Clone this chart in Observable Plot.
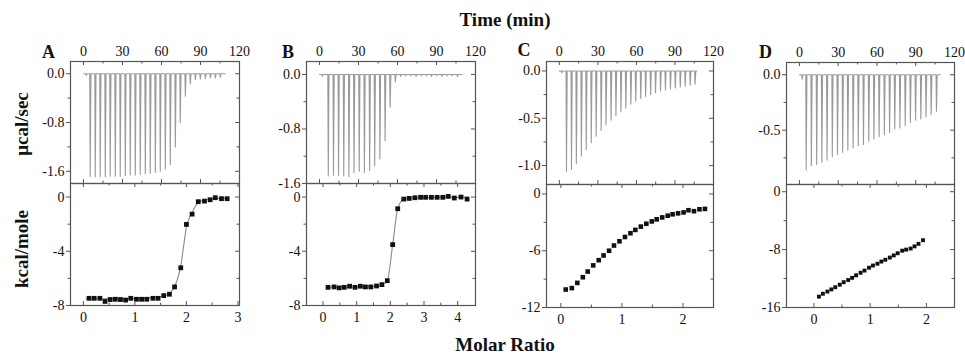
<!DOCTYPE html>
<html><head><meta charset="utf-8">
<script src="https://cdn.jsdelivr.net/npm/d3@7"></script>
<script src="https://cdn.jsdelivr.net/npm/@observablehq/plot@0.6"></script>
<style>
body{margin:0;background:#fff;}
#root{position:relative;width:965px;height:356px;font-family:"Liberation Serif","Times New Roman",serif;overflow:hidden;background:#fff;}
.t{position:absolute;font-weight:bold;white-space:nowrap;color:#111;transform:translate(-50%,-50%);line-height:1;}
.r{transform:translate(-50%,-50%) rotate(-90deg);}
#root svg{position:absolute;overflow:visible;}
</style></head><body><div id="root"></div>
<script>
// ---------- tick values ----------
const timeTicks = [0, 30, 60, 90, 120];
const timeMinor = [15, 45, 75, 105];

// ---------- Panel A ----------
const injTimeA = [1.8, 4.8, 8.7, 12.5, 16.4, 20.2, 24.1, 27.9, 31.8, 35.6, 39.5, 43.3, 47.2, 51.0, 54.9, 58.7, 62.6, 66.4, 70.3, 74.1, 78.0, 81.8, 85.7, 89.5, 93.4, 97.2, 101.1, 104.9];
const peakA = [-0.03, -1.69, -1.69, -1.69, -1.69, -1.68, -1.68, -1.68, -1.67, -1.66, -1.66, -1.65, -1.64, -1.63, -1.62, -1.60, -1.56, -1.49, -1.20, -0.80, -0.37, -0.17, -0.10, -0.09, -0.08, -0.07, -0.07, -0.06];
const ratioA = [0.11, 0.21, 0.32, 0.42, 0.52, 0.62, 0.72, 0.82, 0.92, 1.03, 1.13, 1.23, 1.35, 1.45, 1.56, 1.67, 1.77, 1.89, 2.00, 2.11, 2.23, 2.35, 2.46, 2.56, 2.68, 2.79];
const heatA = [-7.47, -7.47, -7.47, -7.70, -7.56, -7.54, -7.56, -7.60, -7.47, -7.54, -7.54, -7.54, -7.47, -7.47, -7.27, -7.17, -6.63, -5.22, -2.02, -1.26, -0.34, -0.30, -0.20, -0.05, -0.12, -0.12];
const fitRatioA = [0.05, 0.5, 1.0, 1.4, 1.6, 1.7, 1.77, 1.83, 1.89, 1.95, 2.0, 2.05, 2.11, 2.17, 2.23, 2.35, 2.5, 2.8];
const fitHeatA = [-7.5, -7.5, -7.48, -7.4, -7.25, -7.0, -6.6, -6.0, -5.1, -3.5, -2.2, -1.6, -1.15, -0.7, -0.4, -0.22, -0.12, -0.07];

// ---------- Panel B ----------
const injTimeB = [1.8, 6.4, 10.4, 14.3, 18.3, 22.3, 26.2, 30.2, 34.2, 38.2, 42.1, 46.1, 50.1, 54.0, 58.0, 62.0, 65.9, 69.9, 73.9, 77.9, 81.8, 85.8, 89.8, 93.7, 97.7, 101.7, 105.7];
const peakB = [-0.03, -1.49, -1.48, -1.48, -1.49, -1.50, -1.44, -1.42, -1.44, -1.41, -1.34, -1.24, -0.97, -0.48, -0.11, -0.03, -0.02, -0.02, -0.03, -0.02, -0.02, -0.03, -0.02, -0.03, -0.02, -0.02, -0.03];
const ratioB = [0.15, 0.33, 0.48, 0.63, 0.79, 0.95, 1.11, 1.26, 1.42, 1.59, 1.75, 1.91, 2.07, 2.22, 2.40, 2.56, 2.73, 2.90, 3.05, 3.22, 3.39, 3.56, 3.72, 3.90, 4.10, 4.28];
const heatB = [-6.66, -6.63, -6.70, -6.66, -6.58, -6.66, -6.58, -6.63, -6.63, -6.56, -6.46, -6.17, -3.51, -0.86, -0.15, -0.10, -0.05, -0.02, -0.02, -0.02, -0.02, -0.02, 0.05, -0.07, 0.0, -0.15];
const fitRatioB = [0.1, 1.0, 1.6, 1.75, 1.91, 2.07, 2.22, 2.40, 2.7, 3.5, 4.3];
const fitHeatB = [-6.65, -6.63, -6.58, -6.48, -6.17, -3.51, -0.86, -0.15, -0.05, -0.02, -0.02];

// ---------- Panel C ----------
const injTimeC = [1.6, 5.2, 9.1, 12.9, 16.8, 20.6, 24.5, 28.3, 32.2, 36.0, 39.9, 43.7, 47.6, 51.4, 55.3, 59.1, 63.0, 66.8, 70.7, 74.5, 78.4, 82.2, 86.1, 89.9, 93.8, 97.6, 101.5, 105.3];
const peakC = [-0.02, -1.06, -1.04, -0.98, -0.90, -0.83, -0.76, -0.69, -0.63, -0.57, -0.52, -0.47, -0.43, -0.39, -0.35, -0.32, -0.29, -0.27, -0.25, -0.23, -0.21, -0.20, -0.19, -0.18, -0.17, -0.16, -0.15, -0.14];
const ratioC = [0.08, 0.18, 0.27, 0.36, 0.44, 0.53, 0.62, 0.70, 0.79, 0.87, 0.96, 1.05, 1.14, 1.22, 1.31, 1.40, 1.49, 1.57, 1.66, 1.75, 1.83, 1.92, 2.01, 2.09, 2.18, 2.27, 2.36];
const heatC = [-10.1, -9.95, -9.4, -8.8, -8.2, -7.55, -7.0, -6.5, -6.0, -5.45, -5.0, -4.55, -4.15, -3.8, -3.45, -3.15, -2.9, -2.68, -2.48, -2.3, -2.15, -2.05, -1.95, -1.72, -1.82, -1.62, -1.58];

// ---------- Panel D ----------
const injTimeD = [1.8, 4.9, 8.9, 13.0, 17.0, 21.0, 25.1, 29.1, 33.1, 37.1, 41.2, 45.2, 49.2, 53.3, 57.3, 61.3, 65.4, 69.4, 73.4, 77.4, 81.5, 85.5, 89.5, 93.6, 97.6, 101.6, 105.7];
const peakD = [-0.04, -0.86, -0.82, -0.81, -0.79, -0.77, -0.74, -0.72, -0.70, -0.68, -0.66, -0.64, -0.63, -0.60, -0.58, -0.56, -0.54, -0.52, -0.49, -0.48, -0.46, -0.43, -0.41, -0.40, -0.38, -0.36, -0.33];
const ratioD = [0.09, 0.16, 0.24, 0.31, 0.38, 0.46, 0.53, 0.61, 0.68, 0.75, 0.83, 0.90, 0.98, 1.05, 1.13, 1.20, 1.27, 1.35, 1.42, 1.49, 1.57, 1.64, 1.72, 1.79, 1.86, 1.94];
const heatD = [-14.5, -14.1, -13.8, -13.5, -13.2, -12.85, -12.5, -12.2, -11.9, -11.55, -11.2, -10.9, -10.5, -10.2, -9.95, -9.65, -9.4, -9.1, -8.8, -8.5, -8.15, -8.0, -7.85, -7.55, -7.2, -6.7];

// ---------- labels ----------
const panelLetters = ["A", "B", "C", "D"];
const topTitle = "Time (min)";
const bottomTitle = "Molar Ratio";
const yTitleTop = "μcal/sec";
const yTitleBottom = "kcal/mole";

const panels = [
  {letter: "A", frame: {l: 70, r: 239, t: 61, m: 183, b: 305}, letterPos: [48.5, 52],
   times: injTimeA, peaks: peakA, base: [0, 109], topY: [-1.8, 0.2], topTicks: [0, -0.8, -1.6], topMinor: [-0.4, -1.2],
   ratio: ratioA, heat: heatA, fitX: fitRatioA, fitY: fitHeatA, botX: [-0.25, 3.03], botY: [-8, 1],
   xTicks: [0, 1, 2, 3], xMinor: [0.5, 1.5, 2.5], yTicks: [0, -4, -8], yMinor: [-2, -6], r: 2.7},
  {letter: "B", frame: {l: 306, r: 475, t: 61, m: 183, b: 305}, letterPos: [288, 52],
   times: injTimeB, peaks: peakB, base: [0, 109.5], topY: [-1.6, 0.19], topTicks: [0, -0.8, -1.6], topMinor: [-0.4, -1.2],
   ratio: ratioB, heat: heatB, fitX: fitRatioB, fitY: fitHeatB, botX: [-0.49, 4.53], botY: [-8, 1],
   xTicks: [0, 1, 2, 3, 4], xMinor: [0.5, 1.5, 2.5, 3.5], yTicks: [0, -4, -8], yMinor: [-2, -6], r: 2.7},
  {letter: "C", frame: {l: 546, r: 713, t: 61, m: 184, b: 307}, letterPos: [524, 50],
   times: injTimeC, peaks: peakC, base: [0, 107], topY: [-1.2, 0.1], topTicks: [0, -0.5, -1.0], topMinor: [-0.25, -0.75],
   ratio: ratioC, heat: heatC, fitX: null, fitY: null, botX: [-0.235, 2.5], botY: [-12, 1],
   xTicks: [0, 1, 2], xMinor: [0.5, 1.5], yTicks: [0, -6, -12], yMinor: [-3, -9], r: 2.6},
  {letter: "D", frame: {l: 786, r: 954, t: 62, m: 184, b: 307}, letterPos: [765.5, 52],
   times: injTimeD, peaks: peakD, base: [0, 109], topY: [-0.99, 0.11], topTicks: [0, -0.5], topMinor: [-0.25, -0.75],
   ratio: ratioD, heat: heatD, fitX: null, fitY: null, botX: [-0.487, 2.5], botY: [-16, 1],
   xTicks: [0, 1, 2], xMinor: [0.5, 1.5], yTicks: [0, -8, -16], yMinor: [-4, -12], r: 2.2}
];

const root = document.getElementById("root");
const AX = "#555";
const FONT = '"Liberation Serif","Times New Roman",serif';
const fmt1 = d => d.toFixed(1);
const fmt0 = d => String(d);

function place(svg, left, top) {
  svg.style.left = left + "px";
  svg.style.top = top + "px";
  root.appendChild(svg);
}

function topPlot(p) {
  const f = p.frame, W = f.r - f.l, H = f.m - f.t;
  const ml = 50, mr = 4, mt = 30, mb = 4;
  // build the thermogram trace from injection times and peak values
  const pts = [{t: p.base[0], v: 0}];
  p.times.forEach((t, i) => {
    pts.push({t: t, v: 0}, {t: t + 0.35, v: p.peaks[i]}, {t: t + 0.9, v: 0});
  });
  pts.push({t: p.base[1], v: 0});
  const svg = Plot.plot({
    width: W + ml + mr, height: H + mt + mb,
    marginLeft: ml, marginRight: mr, marginTop: mt, marginBottom: mb,
    x: {domain: [-10, 120]}, y: {domain: p.topY},
    style: {fontFamily: FONT, fontSize: "14px", color: "#111", background: "transparent", overflow: "visible"},
    marks: [
      Plot.line(pts, {x: "t", y: "v", stroke: "#9a9a9a", strokeWidth: 1.1}),
      Plot.frame({stroke: AX, strokeWidth: 1.2}),
      Plot.axisX(timeTicks, {anchor: "top", tickSize: 0, tickPadding: 6, tickFormat: fmt0, label: null, fontSize: 14}),
      Plot.tickX(timeTicks, {x: d => d, insetBottom: H - 4, stroke: AX}),
      Plot.tickX(timeMinor, {x: d => d, insetBottom: H - 2.5, stroke: AX}),
      Plot.tickX(timeTicks, {x: d => d, insetTop: H - 4, stroke: AX}),
      Plot.tickX(timeMinor, {x: d => d, insetTop: H - 2.5, stroke: AX}),
      Plot.axisY(p.topTicks, {anchor: "left", tickSize: 4, tickPadding: 2, tickFormat: fmt1, label: null, stroke: AX, fontSize: 14}),
      Plot.axisY(p.topMinor, {anchor: "left", tickSize: 2.5, tickFormat: () => "", label: null, stroke: AX}),
      Plot.tickY(p.topTicks, {y: d => d, insetLeft: W - 4, stroke: AX}),
      Plot.tickY(p.topMinor, {y: d => d, insetLeft: W - 2.5, stroke: AX})
    ]
  });
  place(svg, f.l - ml, f.t - mt);
}

function bottomPlot(p) {
  const f = p.frame, W = f.r - f.l, H = f.b - f.m;
  const ml = 50, mr = 4, mt = 4, mb = 30;
  const pts = p.ratio.map((x, i) => ({x: x, y: p.heat[i]}));
  const marks = [];
  if (p.fitX) {
    const fit = p.fitX.map((x, i) => ({x: x, y: p.fitY[i]}));
    marks.push(Plot.line(fit, {x: "x", y: "y", stroke: "#8a8a8a", strokeWidth: 1.1, curve: "monotone-x"}));
  }
  marks.push(
    Plot.dot(pts, {x: "x", y: "y", symbol: "square", r: p.r, fill: "#111", stroke: "none"}),
    Plot.frame({stroke: AX, strokeWidth: 1.2}),
    Plot.axisX(p.xTicks, {anchor: "bottom", tickSize: 0, tickPadding: 7, tickFormat: fmt0, label: null, fontSize: 14}),
    Plot.tickX(p.xTicks, {x: d => d, insetTop: H - 4, stroke: AX}),
    Plot.tickX(p.xMinor, {x: d => d, insetTop: H - 2.5, stroke: AX}),
    Plot.tickX(p.xTicks, {x: d => d, insetBottom: H - 4, stroke: AX}),
    Plot.tickX(p.xMinor, {x: d => d, insetBottom: H - 2.5, stroke: AX}),
    Plot.axisY(p.yTicks, {anchor: "left", tickSize: 4, tickPadding: 2, tickFormat: fmt0, label: null, stroke: AX, fontSize: 14}),
    Plot.axisY(p.yMinor, {anchor: "left", tickSize: 2.5, tickFormat: () => "", label: null, stroke: AX}),
    Plot.tickY(p.yTicks, {y: d => d, insetLeft: W - 4, stroke: AX}),
    Plot.tickY(p.yMinor, {y: d => d, insetLeft: W - 2.5, stroke: AX})
  );
  const svg = Plot.plot({
    width: W + ml + mr, height: H + mt + mb,
    marginLeft: ml, marginRight: mr, marginTop: mt, marginBottom: mb,
    x: {domain: p.botX}, y: {domain: p.botY},
    style: {fontFamily: FONT, fontSize: "14px", color: "#111", background: "transparent", overflow: "visible"},
    marks: marks
  });
  place(svg, f.l - ml, f.m - mt);
}

function text(str, x, y, size, cls) {
  const d = document.createElement("div");
  d.className = "t" + (cls ? " " + cls : "");
  d.textContent = str;
  d.style.left = x + "px";
  d.style.top = y + "px";
  d.style.fontSize = size + "px";
  root.appendChild(d);
}

panels.forEach(p => { topPlot(p); bottomPlot(p); });
panels.forEach((p, i) => text(panelLetters[i], p.letterPos[0], p.letterPos[1], 18));
text(topTitle, 505, 19, 19);
text(bottomTitle, 505, 344, 19);
text(yTitleTop, 21, 124, 19, "r");
text(yTitleBottom, 21, 249, 19, "r");
</script>
</body></html>
